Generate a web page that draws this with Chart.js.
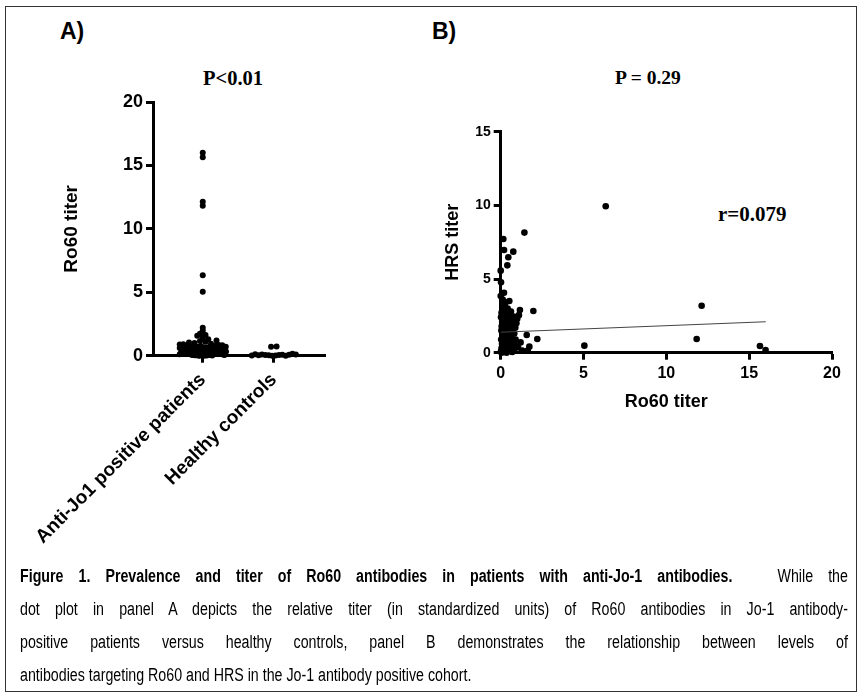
<!DOCTYPE html>
<html>
<head>
<meta charset="utf-8">
<script src="https://cdn.jsdelivr.net/npm/chart.js@4.4.1/dist/chart.umd.min.js"></script>
<style>
  body { margin: 0; background: #fff; width: 864px; height: 696px; position: relative; overflow: hidden; }
  .frame { position: absolute; left: 5px; top: 6px; width: 852px; height: 686px; border: 1px solid #333; box-sizing: border-box; }
  .panel { position: absolute; font-family: "Liberation Sans", Arial, sans-serif; font-weight: bold; font-size: 23px; }
  .stat { position: absolute; font-family: "Liberation Serif", "Times New Roman", serif; font-weight: bold; }
  canvas { position: absolute; }
  .caption { position: absolute; left: 20px; top: 560px; width: 1048px; font-family: "Liberation Sans", Arial, sans-serif; font-size: 18px; line-height: 33px; color: #000; transform: scaleX(0.79); transform-origin: 0 0; }
  .caption div { text-align: justify; text-align-last: justify; white-space: nowrap; }
  .caption div.last { text-align-last: left; }
</style>
</head>
<body>
<div class="frame"></div>
<div class="panel" style="left:60px; top:18px;">A)</div>
<div class="panel" style="left:432px; top:18px;">B)</div>
<div class="stat" style="left:203px; top:67px; font-size:20.5px;">P&lt;0.01</div>
<div class="stat" style="left:615px; top:67px; font-size:19.5px;">P = 0.29</div>
<div class="stat" style="left:718px; top:202px; font-size:21px;">r=0.079</div>
<canvas id="dotPlot" width="345" height="480" style="left:0px; top:90px;"></canvas>
<canvas id="corrPlot" width="440" height="310" style="left:420px; top:110px;"></canvas>
<div class="caption">
  <div><b>Figure 1. Prevalence and titer of Ro60 antibodies in patients with anti-Jo-1 antibodies.</b>&nbsp;&nbsp; While the</div>
  <div>dot plot in panel A depicts the relative titer (in standardized units) of Ro60 antibodies in Jo-1 antibody-</div>
  <div>positive patients versus healthy controls, panel B demonstrates the relationship between levels of</div>
  <div class="last">antibodies targeting Ro60 and HRS in the Jo-1 antibody positive cohort.</div>
</div>
<script>
"use strict";

const groups = ["Anti-Jo1 positive patients", "Healthy controls"];

// Ro60 / HRS titer per Jo-1 positive patient (same order in both arrays)
const ro60Patients = [
  6.34, 12.13, 11.83, 15.65, 15.99, 5.05, 1.43, 0.16, 0.2, 0.76, 0.46, 0.4, 0.0, 0.02, 0.2, 0.0,
  0.52, 1.16, 1.97, 2.21, 1.57, 1.73, 1.63, 1.1, 1.0,
  0.02, 0.05, 0.08, 0.03, 0.1, 0.04, 0.06, 0.09, 0.02, 0.05, 0.12, 0.15, 0.18, 0.2, 0.14, 0.22,
  0.17, 0.25, 0.2, 0.16, 0.28, 0.3, 0.33, 0.27, 0.35, 0.3, 0.38, 0.32, 0.4, 0.36, 0.42, 0.45,
  0.5, 0.48, 0.52, 0.46, 0.55, 0.5, 0.58, 0.62, 0.6, 0.65, 0.7, 0.66, 0.72, 0.68, 0.75, 0.78,
  0.8, 0.85, 0.9, 0.82, 0.88, 0.95, 1.05, 1.2, 1.3, 0.1, 0.25, 0.05, 0.35, 0.7, 0.12, 0.3
];
const hrsPatients = [
  9.94, 3.19, 0.93, 0.45, 0.18, 0.48, 8.15, 7.72, 6.97, 6.86, 6.48, 5.93, 5.57, 4.78, 4.07, 3.85,
  3.51, 2.9, 2.83, 0.93, 1.2, 0.41, 0.14, 2.55, 2.3,
  0.1, 0.3, 0.6, 0.9, 1.2, 1.5, 1.8, 2.1, 2.4, 2.7, 2.95, 0.05, 0.4, 0.75, 1.05, 1.35,
  1.65, 1.95, 2.25, 2.55, 2.8, 0.15, 0.5, 0.85, 1.1, 1.45, 1.75, 2.05, 2.35, 2.65, 3.0, 0.25,
  0.6, 0.95, 1.25, 1.6, 1.9, 2.2, 2.5, 2.8, 0.1, 0.45, 0.8, 1.15, 1.5, 1.85, 2.15, 2.45,
  0.2, 0.55, 0.9, 1.3, 1.7, 2.0, 0.35, 0.7, 0.15, 3.3, 3.1, 0.0, 0.0, 0.05, 3.6, 3.4
];
const ro60Controls = [0.0, 0.02, 0.03, 0.05, 0.06, 0.08, 0.1, 0.0, 0.04, 0.07, 0.12, 0.15, 0.01, 0.09, 0.7, 0.72];

// regression line
const fitX = [0, 16];
const fitY = [1.39, 2.1];

const yTicksA = [0, 5, 10, 15, 20];
const ticksB = { x: [0, 5, 10, 15, 20], y: [0, 5, 10, 15] };

Chart.defaults.font.family = '"Liberation Sans", Arial, sans-serif';
Chart.defaults.color = "#000";

// beeswarm spread of the dot plot
const PX_PER_X = 71, PX_PER_Y = 12.68, DOT = 5.5, ROW = 4;
const swarm = (values, center, maxHalf) => {
  const rowUnits = ROW / PX_PER_Y;
  const bins = {};
  values.forEach(v => {
    const k = Math.floor(v / rowUnits);
    (bins[k] = bins[k] || []).push(v);
  });
  const pts = [];
  Object.values(bins).forEach(row => {
    const n = row.length;
    const step = n > 1 ? Math.min(DOT, 2 * maxHalf / (n - 1)) : 0;
    const slots = [];
    for (let i = 0; i < n; i++) slots.push((i - (n - 1) / 2) * step);
    slots.sort((a, b) => Math.abs(a) - Math.abs(b));
    row.forEach((v, i) => pts.push({ x: center + slots[i] / PX_PER_X, y: v }));
  });
  return pts;
};

const axisStyle = () => ({
  grid: { display: true, drawOnChartArea: false, drawTicks: true, tickLength: 7, tickWidth: 3, tickColor: "#000" },
  border: { display: true, width: 3, color: "#000" }
});

// keep the plot area where it is in the figure, whatever the labels need
const fixSize = (prop, size) => s => {
  s[prop] = size;
  s.paddingLeft = 0; s.paddingRight = 0; s.paddingTop = 0; s.paddingBottom = 0;
};

new Chart(document.getElementById("dotPlot"), {
  type: "scatter",
  data: {
    datasets: [
      { data: swarm(ro60Patients, 1, 23), pointRadius: 3, backgroundColor: "#000", borderWidth: 0, clip: false },
      { data: swarm(ro60Controls, 2, 22), pointRadius: 3, backgroundColor: "#000", borderWidth: 0, clip: false }
    ]
  },
  options: {
    responsive: false,
    animation: false,
    events: [],
    layout: { autoPadding: false, padding: { left: 0, top: 12, right: 20, bottom: 0 } },
    plugins: { legend: { display: false }, tooltip: { enabled: false } },
    scales: {
      x: {
        ...axisStyle(),
        type: "linear", min: 0.3, max: 2.72,
        afterBuildTicks: s => { s.ticks = groups.map((g, i) => ({ value: i + 1 })); },
        afterFit: fixSize("height", 214.3),
        ticks: {
          callback: v => groups[v - 1] || "",
          minRotation: 45, maxRotation: 45, autoSkip: false, padding: 6,
          font: { size: 19, weight: "bold" }
        }
      },
      y: {
        ...axisStyle(),
        min: 0, max: 20,
        afterBuildTicks: s => { s.ticks = yTicksA.map(v => ({ value: v })); },
        afterFit: fixSize("width", 153),
        ticks: { padding: 3, font: { size: 18, weight: "bold" } },
        title: { display: true, text: "Ro60 titer", font: { size: 19, weight: "bold" }, padding: { top: 60, bottom: 0 } }
      }
    }
  }
});

new Chart(document.getElementById("corrPlot"), {
  type: "scatter",
  data: {
    datasets: [
      {
        type: "line",
        data: fitX.map((x, i) => ({ x: x, y: fitY[i] })),
        borderColor: "#444", borderWidth: 1, pointRadius: 0, fill: false
      },
      {
        data: ro60Patients.map((x, i) => ({ x: x, y: hrsPatients[i] })),
        pointRadius: 3.3, backgroundColor: "#000", borderWidth: 0, clip: false
      }
    ]
  },
  options: {
    responsive: false,
    animation: false,
    events: [],
    layout: { autoPadding: false, padding: { left: 0, top: 21.7, right: 28, bottom: 0 } },
    plugins: { legend: { display: false }, tooltip: { enabled: false } },
    scales: {
      x: {
        ...axisStyle(),
        type: "linear", min: 0, max: 20,
        afterBuildTicks: s => { s.ticks = ticksB.x.map(v => ({ value: v })); },
        afterFit: fixSize("height", 67.3),
        ticks: { padding: 4, maxRotation: 0, font: { size: 16, weight: "bold" } },
        title: { display: true, text: "Ro60 titer", font: { size: 18, weight: "bold" }, padding: { top: 0, bottom: 7 } }
      },
      y: {
        ...axisStyle(),
        min: 0, max: 15,
        afterBuildTicks: s => { s.ticks = ticksB.y.map(v => ({ value: v })); },
        afterFit: fixSize("width", 80.7),
        ticks: { padding: 3, font: { size: 14, weight: "bold" } },
        title: { display: true, text: "HRS titer", font: { size: 18, weight: "bold" }, padding: { top: 22, bottom: 0 } }
      }
    }
  }
});
</script>
</body>
</html>
